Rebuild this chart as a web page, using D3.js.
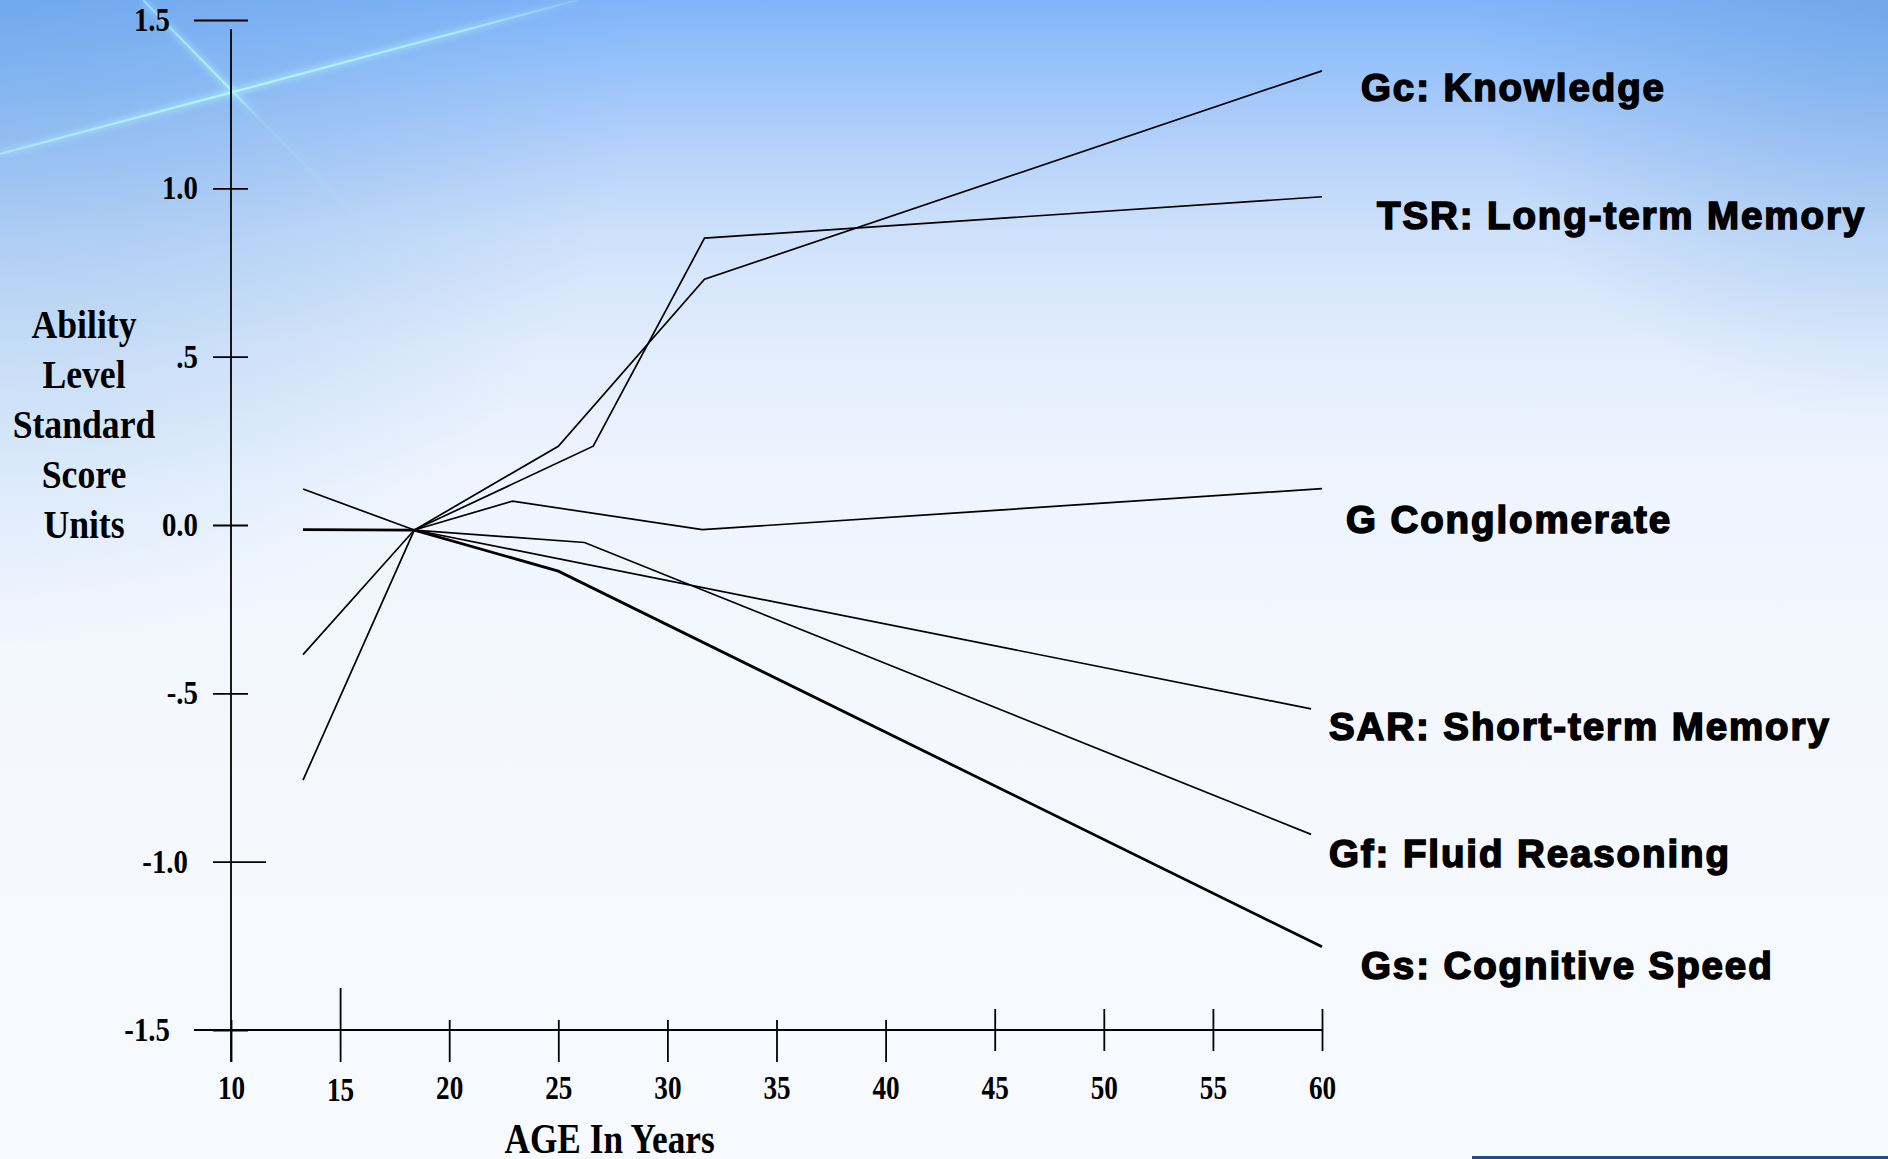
<!DOCTYPE html>
<html>
<head>
<meta charset="utf-8">
<script src="https://cdn.jsdelivr.net/npm/d3@7"></script>
<style>
  html, body { margin: 0; padding: 0; overflow: hidden; background: #f7fafe; }
  svg { display: block; }
</style>
</head>
<body>
<svg id="chart"></svg>
<script>
// ---- data ----
const seriesNames = ["Gc: Knowledge", "TSR: Long-term Memory", "G Conglomerate",
                     "SAR: Short-term Memory", "Gf: Fluid Reasoning", "Gs: Cognitive Speed"];

const gcAges  = [13.3, 18.4, 25.0, 31.7, 60];
const gcVals  = [-0.758, -0.015, 0.234, 0.730, 1.349];
const tsrAges = [18.4, 26.6, 31.7, 60];
const tsrVals = [-0.015, 0.234, 0.852, 0.975];
const gAges   = [18.4, 22.9, 31.6, 60];
const gVals   = [-0.015, 0.071, -0.014, 0.108];
const sarAges = [13.3, 18.4, 59.5];
const sarVals = [0.107, -0.015, -0.546];
const gfAges  = [13.3, 18.4, 26.2, 59.5];
const gfVals  = [-0.385, -0.015, -0.052, -0.919];
const gsAges  = [13.3, 18.4, 25.0, 60];
const gsVals  = [-0.014, -0.015, -0.137, -1.253];

const xTicks = [10, 15, 20, 25, 30, 35, 40, 45, 50, 55, 60];
const yTicks = [1.5, 1.0, 0.5, 0, -0.5, -1.0, -1.5];
const yTickLabels = ["1.5", "1.0", ".5", "0.0", "-.5", "-1.0", "-1.5"];
const yTitleLines = ["Ability", "Level", "Standard", "Score", "Units"];
const xTitle = "AGE In Years";

// ---- layout ----
const W = 1888, H = 1159;
const margin = { top: 20, right: 566, bottom: 129, left: 231 };
const serif = "'Liberation Serif', 'Times New Roman', serif";
const sans = "'Liberation Sans', Arial, sans-serif";

const series = [
  { name: seriesNames[0], ages: gcAges,  vals: gcVals,  w: 1.7, dx: 39, dy: 30 },
  { name: seriesNames[1], ages: tsrAges, vals: tsrVals, w: 1.7, dx: 55, dy: 32 },
  { name: seriesNames[2], ages: gAges,   vals: gVals,   w: 1.7, dx: 24, dy: 44 },
  { name: seriesNames[3], ages: sarAges, vals: sarVals, w: 1.7, dx: 7,  dy: 31 },
  { name: seriesNames[4], ages: gfAges,  vals: gfVals,  w: 1.7, dx: 7,  dy: 33 },
  { name: seriesNames[5], ages: gsAges,  vals: gsVals,  w: 2.8, dx: 39, dy: 32 }
].map(s => ({ ...s, points: s.ages.map((a, i) => ({ age: a, value: s.vals[i] })) }));

const svg = d3.select("#chart").attr("width", W).attr("height", H);
const defs = svg.append("defs");

// ---- slide background ----
const bg = defs.append("linearGradient").attr("id", "bg")
    .attr("x1", 0).attr("y1", 0).attr("x2", 0).attr("y2", 1);
[[0, "#80b4f8"], [0.05, "#95c1fa"], [0.12, "#b2d0fa"], [0.2, "#cee1fb"],
 [0.3, "#e2edfc"], [0.42, "#eef5fe"], [0.6, "#f4f8fe"], [1, "#f7fafe"]]
    .forEach(([o, c]) => bg.append("stop").attr("offset", o).attr("stop-color", c));

const cornerL = defs.append("radialGradient").attr("id", "cornerL")
    .attr("gradientUnits", "userSpaceOnUse").attr("cx", 0).attr("cy", 0).attr("r", 650);
cornerL.append("stop").attr("offset", 0).attr("stop-color", "#5a9be0").attr("stop-opacity", 0.45);
cornerL.append("stop").attr("offset", 1).attr("stop-color", "#5a9be0").attr("stop-opacity", 0);

const cornerR = defs.append("radialGradient").attr("id", "cornerR")
    .attr("gradientUnits", "userSpaceOnUse").attr("cx", W).attr("cy", 0).attr("r", 420);
cornerR.append("stop").attr("offset", 0).attr("stop-color", "#5b98dc").attr("stop-opacity", 0.45);
cornerR.append("stop").attr("offset", 1).attr("stop-color", "#5b98dc").attr("stop-opacity", 0);

svg.append("rect").attr("width", W).attr("height", H).attr("fill", "url(#bg)");
svg.append("rect").attr("width", W).attr("height", H).attr("fill", "url(#cornerL)");
svg.append("rect").attr("width", W).attr("height", H).attr("fill", "url(#cornerR)");

// light streaks in the corner
defs.append("filter").attr("id", "glow").append("feGaussianBlur").attr("stdDeviation", 2.5);
const s1 = defs.append("linearGradient").attr("id", "s1").attr("gradientUnits", "userSpaceOnUse")
    .attr("x1", 0).attr("y1", 154).attr("x2", 578).attr("y2", 0);
[[0, 0.55], [0.4, 0.95], [0.8, 0.7], [1, 0.15]].forEach(([o, a]) =>
    s1.append("stop").attr("offset", o).attr("stop-color", "#b4f6ff").attr("stop-opacity", a));
const s2 = defs.append("linearGradient").attr("id", "s2").attr("gradientUnits", "userSpaceOnUse")
    .attr("x1", 143).attr("y1", 0).attr("x2", 400).attr("y2", 262);
[[0, 0.5], [0.33, 0.85], [0.45, 0.15], [1, 0]].forEach(([o, a]) =>
    s2.append("stop").attr("offset", o).attr("stop-color", "#b4f6ff").attr("stop-opacity", a));
[[0, 154, 578, 0, "url(#s1)"], [143, 0, 400, 262, "url(#s2)"]].forEach(([a, b, c, d, f]) => {
  svg.append("line").attr("x1", a).attr("y1", b).attr("x2", c).attr("y2", d)
      .attr("stroke", f).attr("stroke-width", 9).attr("opacity", 0.4).attr("filter", "url(#glow)");
  svg.append("line").attr("x1", a).attr("y1", b).attr("x2", c).attr("y2", d)
      .attr("stroke", f).attr("stroke-width", 2.2);
});

// ---- scales ----
const x = d3.scaleLinear().domain([10, 60]).range([margin.left, W - margin.right]);
const y = d3.scaleLinear().domain([-1.5, 1.5]).range([H - margin.bottom, margin.top]);

// ---- y axis ----
svg.append("line")
    .attr("x1", x(10)).attr("x2", x(10))
    .attr("y1", y(1.5) + 9).attr("y2", y(-1.5) + 32)
    .attr("stroke", "#000").attr("stroke-width", 1.8);

const yAxis = svg.append("g")
    .attr("transform", `translate(${x(10)},0)`)
    .call(d3.axisLeft(y).tickValues(yTicks).tickFormat((d, i) => yTickLabels[i]).tickSize(0))
    .attr("font-family", serif).attr("font-size", 33).attr("font-weight", "bold")
    .style("color", "#000");
yAxis.select(".domain").remove();
yAxis.selectAll(".tick line")
    .attr("x1", d => d === 1.5 ? -37 : -18)
    .attr("x2", d => d === -1 ? 35 : 17)
    .attr("stroke-width", 1.8);
yAxis.selectAll(".tick text")
    .attr("x", null).attr("dy", "0.32em").attr("text-anchor", "end")
    .attr("transform", d => `translate(${Math.abs(d) === 1.5 ? -61 : d === -1 ? -43 : -33},0) scale(0.875,1)`);

// ---- x axis ----
svg.append("line")
    .attr("x1", x(10) - 37).attr("x2", x(60))
    .attr("y1", y(-1.5)).attr("y2", y(-1.5))
    .attr("stroke", "#000").attr("stroke-width", 1.8);

const xAxis = svg.append("g")
    .attr("transform", `translate(0,${y(-1.5)})`)
    .call(d3.axisBottom(x).tickValues(xTicks).tickFormat(d3.format("d")).tickSize(0))
    .attr("font-family", serif).attr("font-size", 34).attr("font-weight", "bold")
    .style("color", "#000");
xAxis.select(".domain").remove();
xAxis.selectAll(".tick line")
    .attr("y1", d => d === 15 ? -42 : d >= 45 ? -21 : -10)
    .attr("y2", d => d >= 45 ? 21 : 32)
    .attr("stroke-width", 1.8);
xAxis.selectAll(".tick text")
    .attr("y", d => d === 15 ? 71 : 69).attr("dy", null)
    .attr("transform", "scale(0.8,1)");

// ---- axis titles ----
svg.append("text")
    .attr("transform", `translate(${x(10) - 147},0) scale(0.87,1)`)
    .attr("text-anchor", "middle")
    .style("font-family", serif).style("font-weight", "bold").style("font-size", "41px")
    .selectAll("tspan").data(yTitleLines).enter().append("tspan")
    .attr("x", 0).attr("y", (d, i) => y(0.5) - 19 + i * 50)
    .text(d => d);

svg.append("text")
    .attr("transform", `translate(${x(27.35)},${y(-1.5) + 123}) scale(0.82,1)`)
    .attr("text-anchor", "middle")
    .style("font-family", serif).style("font-weight", "bold").style("font-size", "43px")
    .text(xTitle);

// ---- lines ----
const line = d3.line().x(d => x(d.age)).y(d => y(d.value));

svg.selectAll(".series")
    .data(series)
    .enter().append("path")
    .attr("class", "series")
    .attr("d", d => line(d.points))
    .attr("fill", "none")
    .attr("stroke", "#000")
    .attr("stroke-width", d => d.w)
    .attr("stroke-linejoin", "miter");

// ---- series labels ----
svg.selectAll(".label")
    .data(series)
    .enter().append("text")
    .attr("class", "label")
    .attr("x", d => x(60) + d.dx)
    .attr("y", d => y(d.vals[d.vals.length - 1]) + d.dy)
    .style("font-family", sans).style("font-weight", "bold").style("font-size", "38.5px")
    .style("letter-spacing", "1.9px")
    .style("fill", "#000").style("stroke", "#000").style("stroke-width", "1.6px")
    .text(d => d.name);

// slide footer rule
svg.append("rect")
    .attr("x", 1472).attr("y", H - 3).attr("width", W - 1472).attr("height", 3)
    .attr("fill", "#1f4f86");
</script>
</body>
</html>
